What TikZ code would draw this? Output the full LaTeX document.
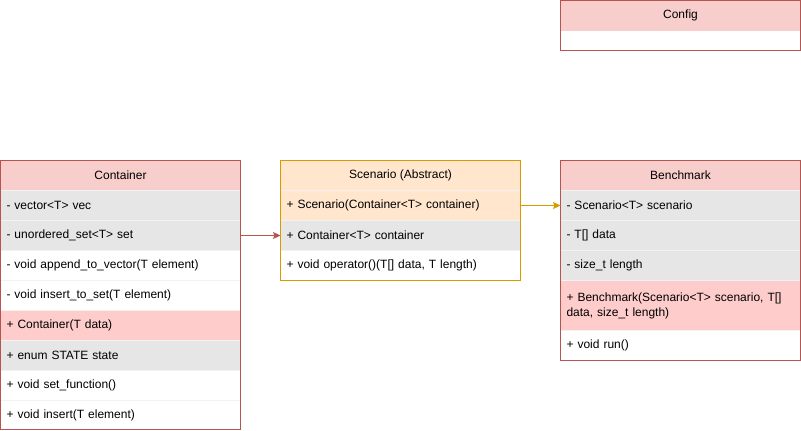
\documentclass[tikz,border=0pt]{standalone}
\usepackage{fontspec}
\setmainfont{Liberation Sans}
\usetikzlibrary{arrows.meta}
\definecolor{redline}{HTML}{B85450}
\definecolor{redfill}{HTML}{F8CECC}
\definecolor{pinkrow}{HTML}{FFCCCC}
\definecolor{greyrow}{HTML}{E6E6E6}
\definecolor{greysep}{HTML}{F2F2F2}
\definecolor{orangeline}{HTML}{D79B00}
\definecolor{orangefill}{HTML}{FFE6CC}
\begin{document}
\begin{tikzpicture}[x=1pt,y=-1pt,
  every node/.style={font=\fontsize{12}{15}\selectfont, inner sep=0pt, outer sep=0pt},
  row/.style={anchor=north west, minimum width=240pt, minimum height=30pt, text width=228pt, align=left, inner xsep=6pt, draw=greysep, line width=0.6pt},
  hdr/.style={anchor=north west, minimum width=240pt, minimum height=30pt, align=center},
  frame/.style={line width=1pt},
  link/.style={line width=1pt, -{Stealth[length=7.5pt,width=7pt,inset=1.5pt]}}]
\useasboundingbox (0,0) rectangle (801,431);
\fill[white] (0,0) rectangle (801,431);

% Container
\node[hdr, fill=redfill] (chead) at (0.5,160.5) {Container};
\node[row, fill=greyrow] (cvec) at (0.5,190.5) {- vector<T> vec};
\node[row, fill=greyrow] (cset) at (0.5,220.5) {- unordered\_set<T> set};
\node[row] (capp) at (0.5,250.5) {- void append\_to\_vector(T element)};
\node[row] (cits) at (0.5,280.5) {- void insert\_to\_set(T element)};
\node[row, fill=pinkrow] (cctor) at (0.5,310.5) {+ Container(T data)};
\node[row, fill=greyrow] (cstate) at (0.5,340.5) {+ enum STATE state};
\node[row] (cfun) at (0.5,370.5) {+ void set\_function()};
\node[row, minimum height=29pt] (cins) at (0.5,400.5) {+ void insert(T element)};
\draw[frame, redline] (chead.north west) rectangle (cins.south east);

% Scenario
\node[hdr, fill=orangefill] (shead) at (280.5,160.5) {Scenario (Abstract)};
\node[row, fill=orangefill] (sctor) at (280.5,190.5) {+ Scenario(Container<T> container)};
\node[row, fill=greyrow] (scont) at (280.5,220.5) {+ Container<T> container};
\node[row] (sop) at (280.5,250.5) {+ void operator()(T[] data, T length)};
\draw[frame, orangeline] (shead.north west) rectangle (sop.south east);

% Benchmark
\node[hdr, fill=redfill] (bhead) at (560.5,160.5) {Benchmark};
\node[row, fill=greyrow] (bscen) at (560.5,190.5) {- Scenario<T> scenario};
\node[row, fill=greyrow] (bdata) at (560.5,220.5) {- T[] data};
\node[row, fill=greyrow] (blen) at (560.5,250.5) {- size\_t length};
\node[row, fill=pinkrow, minimum height=50pt] (bctor) at (560.5,280.5) {+ Benchmark(Scenario<T> scenario, T[]\\data, size\_t length)};
\node[row] (brun) at (560.5,330.5) {+ void run()};
\draw[frame, redline] (bhead.north west) rectangle (brun.south east);

% Config
\node[hdr, fill=redfill] (cfhead) at (560.5,0.5) {Config};
\node[row, minimum height=20pt, draw=none] (cfbody) at (560.5,30.5) {};
\draw[frame, redline] (cfhead.north west) rectangle (cfbody.south east);

% connectors
\draw[link, redline] (cset.east) -- (scont.west);
\draw[link, orangeline] (sctor.east) -- (bscen.west);
\end{tikzpicture}
\end{document}
